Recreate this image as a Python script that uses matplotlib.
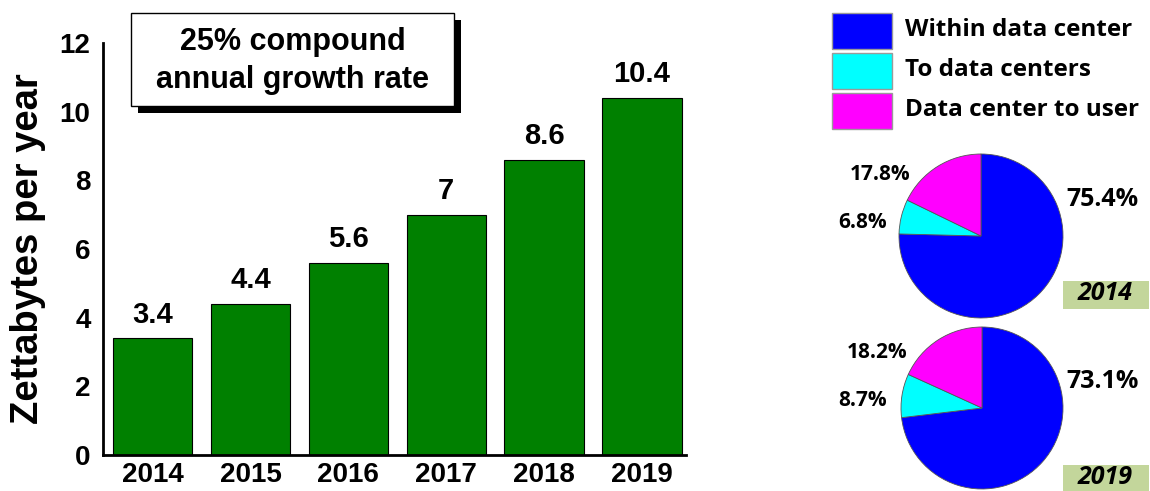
import matplotlib
matplotlib.use("Agg")
import matplotlib.pyplot as plt
from matplotlib.patches import Rectangle

# bar chart data
years = ["2014", "2015", "2016", "2017", "2018", "2019"]
traffic = [3.4, 4.4, 5.6, 7, 8.6, 10.4]
yticks = [0, 2, 4, 6, 8, 10, 12]

# pie data
segments = ["Within data center", "To data centers", "Data center to user"]
share_2014 = [75.4, 6.8, 17.8]
share_2019 = [73.1, 8.7, 18.2]
seg_colors = ["#0000ff", "#00ffff", "#ff00ff"]

W, H = 1150, 491
fig = plt.figure(figsize=(W / 100, H / 100), dpi=100)
ARIAL = ["Liberation Sans", "DejaVu Sans"]
CAL = ["Open Sans", "DejaVu Sans"]


def fx(px):
    return px / W


def fy(py):
    return 1 - py / H


# ---- bar chart ----
ax = fig.add_axes([fx(103), fy(455), fx(686 - 103), (455 - 43) / H])
x = range(len(years))
ax.bar(x, traffic, width=0.81, color="#008000", edgecolor="black", linewidth=0.8)
ax.set_xlim(-0.507, 5.45)
ax.set_ylim(0, 12)
ax.set_yticks(yticks)
ax.set_xticks(list(x))
ax.set_xticklabels(years)
for s in ["top", "right"]:
    ax.spines[s].set_visible(False)
for s in ["left", "bottom"]:
    ax.spines[s].set_linewidth(2)
ax.tick_params(axis="y", length=0, pad=9)
ax.tick_params(axis="x", length=0, pad=5)
for lab in ax.get_xticklabels() + ax.get_yticklabels():
    lab.set_fontfamily(ARIAL)
    lab.set_fontweight("bold")
    lab.set_fontsize(20)
ax.set_ylabel("Zettabytes per year", fontfamily=ARIAL, fontweight="bold",
              fontsize=27.5, labelpad=10)
for xi, v in zip(x, traffic):
    ax.annotate(f"{v:g}", (xi, v), xytext=(0, 7), textcoords="offset points",
                ha="center", va="bottom", fontfamily=ARIAL, fontweight="bold",
                fontsize=21)

# growth-rate box with shadow
fig.patches.append(Rectangle((fx(138), fy(113)), fx(461 - 138), (113 - 20) / H,
                             transform=fig.transFigure, facecolor="black",
                             edgecolor="none", zorder=5))
fig.patches.append(Rectangle((fx(131), fy(106)), fx(454 - 131), (106 - 13) / H,
                             transform=fig.transFigure, facecolor="white",
                             edgecolor="black", linewidth=1, zorder=6))
fig.text(fx(293), fy(61), "25% compound\nannual growth rate", ha="center",
         va="center", multialignment="center", fontfamily=ARIAL,
         fontweight="bold", fontsize=22, linespacing=1.35, zorder=7)

# ---- legend ----
leg_tops = [13, 53, 93]
for lab, col, top in zip(segments, seg_colors, leg_tops):
    fig.patches.append(Rectangle((fx(832), fy(top + 36)), fx(60), 36 / H,
                                 transform=fig.transFigure, facecolor=col,
                                 edgecolor="#9a9a9a", linewidth=1))
    fig.text(fx(905), fy(top + 17), lab, ha="left", va="center",
             fontfamily=CAL, fontweight="bold", fontsize=17.5)


# ---- pies ----
def draw_pie(values, cx, cy, r, year, label_pos, box_top):
    pax = fig.add_axes([fx(cx - r), fy(cy + r), fx(2 * r), 2 * r / H])
    pax.pie(values, colors=seg_colors, startangle=90, counterclock=False,
            wedgeprops=dict(edgecolor="#555555", linewidth=0.6))
    pax.set_xlim(-1, 1)
    pax.set_ylim(-1, 1)
    pax.set_aspect("auto")
    pax.axis("off")
    sizes = [18, 15, 15]
    for v, (lx, ly), sz in zip(values, label_pos, sizes):
        fig.text(fx(lx), fy(ly), f"{v}%", ha="center", va="center",
                 fontfamily=CAL, fontweight="bold", fontsize=sz)
    fig.patches.append(Rectangle((fx(1063), fy(box_top + 28)), fx(86), 28 / H,
                                 transform=fig.transFigure,
                                 facecolor="#c3d69b", edgecolor="none"))
    fig.text(fx(1105), fy(box_top + 12), year, ha="center", va="center",
             fontfamily=CAL, fontweight="bold", fontstyle="italic", fontsize=18)


draw_pie(share_2014, 981, 236, 82, "2014",
         [(1102, 200), (863, 222), (880, 174)], 281)
draw_pie(share_2019, 982, 408, 81, "2019",
         [(1103, 381), (863, 400), (877, 352)], 465)

fig.savefig("out.png", dpi=100)
